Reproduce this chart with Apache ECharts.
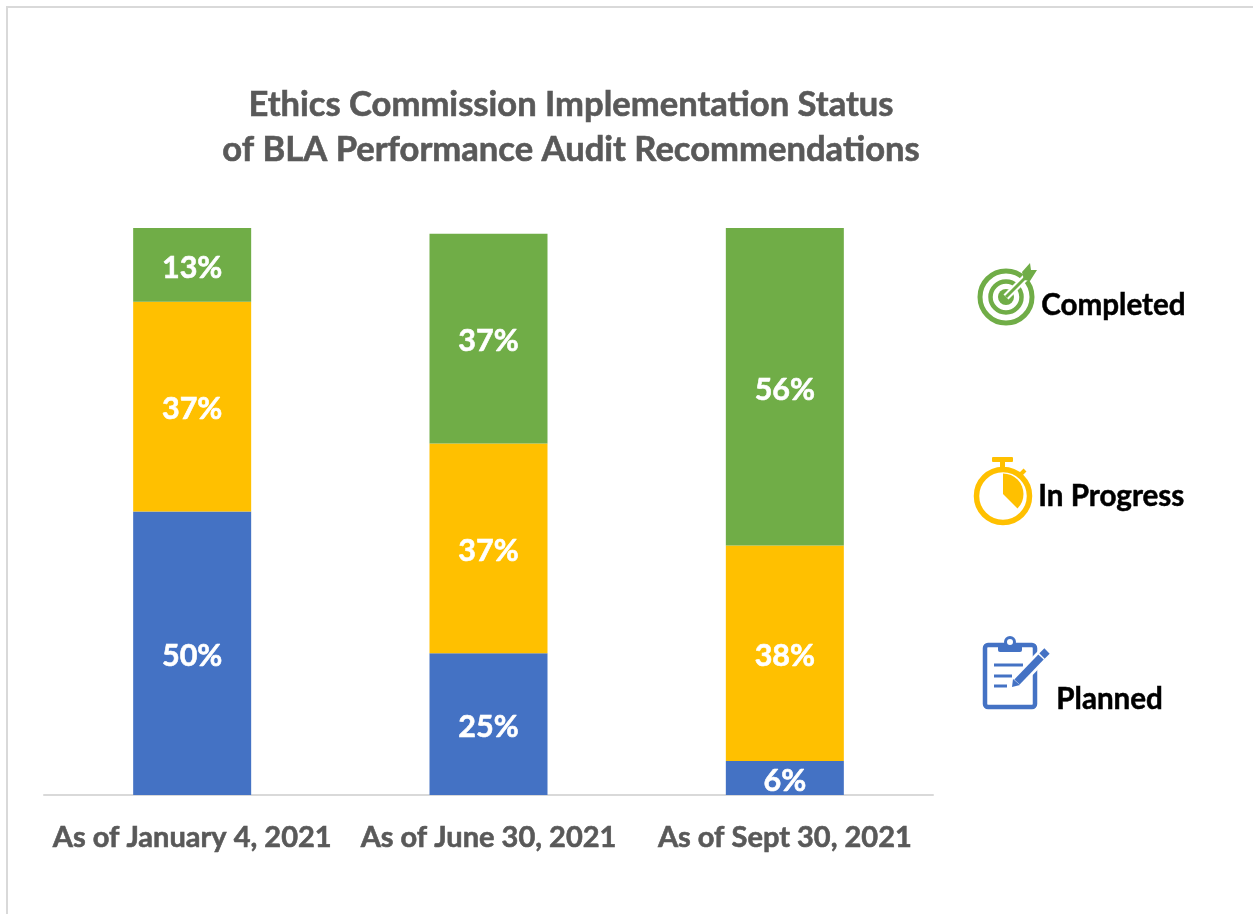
<!DOCTYPE html>
<html>
<head>
<meta charset="utf-8">
<title>Ethics Commission Implementation Status</title>
<script src="https://cdn.jsdelivr.net/npm/echarts@6/dist/echarts.min.js"></script>
<style>
html,body{margin:0;padding:0;background:#fff;}
#main{width:1253px;height:914px;}
</style>
</head>
<body>
<div id="main"></div>
<script>
var categories = ['As of January 4, 2021', 'As of June 30, 2021', 'As of Sept 30, 2021'];
var planned = [50, 25, 6];
var inProgress = [37, 37, 38];
var completed = [13, 37, 56];

var fontName = 'Lato, "Open Sans", sans-serif';
var blue = '#4472c4', yellow = '#ffc000', green = '#70ad47', grey = '#595959';

function makeSeries(name, values, color) {
	return {
		name: name,
		type: 'bar',
		stack: 'status',
		barWidth: 118,
		data: values,
		itemStyle: { color: color },
		label: {
			show: true,
			position: 'inside',
			offset: [0, 3],
			formatter: '{c}%',
			color: '#fff',
			fontFamily: fontName,
			fontWeight: 'bold',
			fontSize: 30.5,
			textBorderColor: '#fff',
			textBorderWidth: 0.6
		}
	};
}

function legendText(text, x, y) {
	return {
		type: 'text',
		left: x,
		top: y,
		style: { text: text, fill: '#000', stroke: '#000', lineWidth: 0.5, fontFamily: fontName, fontWeight: 'bold', fontSize: 29.6 }
	};
}

// 右侧图例图标
function ring(cx, cy, r, width, color) {
	return { type: 'circle', shape: { cx: cx, cy: cy, r: r }, style: { fill: 'none', stroke: color, lineWidth: width } };
}
function stroke(x1, y1, x2, y2, width, color) {
	return { type: 'line', shape: { x1: x1, y1: y1, x2: x2, y2: y2 }, style: { stroke: color, lineWidth: width } };
}

var targetIcon = [
	ring(1006, 297, 26, 5, green),
	ring(1006, 297, 15.5, 4.5, green),
	{ type: 'circle', shape: { cx: 1006, cy: 297, r: 8 }, style: { fill: green } },
	stroke(1006, 297, 1033, 270, 7, '#fff'),
	stroke(1006, 297, 1029, 274, 3, green),
	{ type: 'polygon', shape: { points: [[1022, 272], [1030, 263], [1031, 270], [1037, 270], [1030, 281], [1024, 280]] }, style: { fill: green } }
];

var watchIcon = [
	ring(1003, 496, 26.5, 5.5, yellow),
	{ type: 'rect', shape: { x: 992, y: 457, width: 21, height: 5, r: 1 }, style: { fill: yellow } },
	{ type: 'rect', shape: { x: 1000, y: 461, width: 5, height: 8 }, style: { fill: yellow } },
	stroke(1020, 475, 1025, 470, 4, yellow),
	{ type: 'sector', shape: { cx: 1003, cy: 494, r0: 0, r: 20.5, startAngle: -Math.PI / 2, endAngle: Math.PI / 4 }, style: { fill: yellow } }
];

var clipboardIcon = [
	{ type: 'rect', shape: { x: 985, y: 645, width: 50, height: 62, r: 3 }, style: { fill: '#fff', stroke: blue, lineWidth: 4.5 } },
	{ type: 'rect', shape: { x: 998, y: 643, width: 24, height: 9, r: 2 }, style: { fill: blue } },
	{ type: 'circle', shape: { cx: 1010, cy: 642, r: 4.5 }, style: { fill: '#fff', stroke: blue, lineWidth: 3 } },
	stroke(994, 665, 1023, 665, 3, blue),
	stroke(994, 676, 1012, 676, 3, blue),
	stroke(994, 686, 1007, 686, 3, blue),
	stroke(1014, 685, 1044, 654, 13, '#fff'),
	stroke(1017, 682, 1041, 657, 7.5, blue),
	stroke(1042, 656, 1047, 651, 7.5, blue),
	{ type: 'polygon', shape: { points: [[1013, 679], [1020, 685], [1012, 687]] }, style: { fill: blue } }
];

var option = {
	animation: false,
	backgroundColor: '#fff',
	title: {
		text: 'Ethics Commission Implementation Status\nof BLA Performance Audit Recommendations',
		left: 566,
		top: 77,
		textAlign: 'center',
		textStyle: { color: grey, fontFamily: fontName, fontWeight: 'bold', fontSize: 34.6, lineHeight: 45, textBorderColor: grey, textBorderWidth: 0.6 }
	},
	grid: { left: 44, top: 228, width: 889, height: 567 },
	xAxis: {
		type: 'category',
		data: categories,
		axisLine: { lineStyle: { color: '#d9d9d9', width: 2 } },
		axisTick: { show: false },
		axisLabel: { color: grey, fontFamily: fontName, fontWeight: 'bold', fontSize: 29, margin: 28, interval: 0, textBorderColor: grey, textBorderWidth: 0.6 }
	},
	yAxis: { type: 'value', min: 0, max: 100, show: false },
	series: [
		makeSeries('Planned', planned, blue),
		makeSeries('In Progress', inProgress, yellow),
		makeSeries('Completed', completed, green)
	],
	graphic: [
		{ type: 'polyline', shape: { points: [[7, 914], [7, 7], [1253, 7]] }, style: { fill: 'none', stroke: '#d9d9d9', lineWidth: 2 } },
		legendText('Completed', 1041, 290),
		legendText('In Progress', 1038, 481),
		legendText('Planned', 1056, 684)
	].concat(targetIcon, watchIcon, clipboardIcon)
};

var myChart = echarts.init(document.getElementById('main'));
myChart.setOption(option);
</script>
</body>
</html>
